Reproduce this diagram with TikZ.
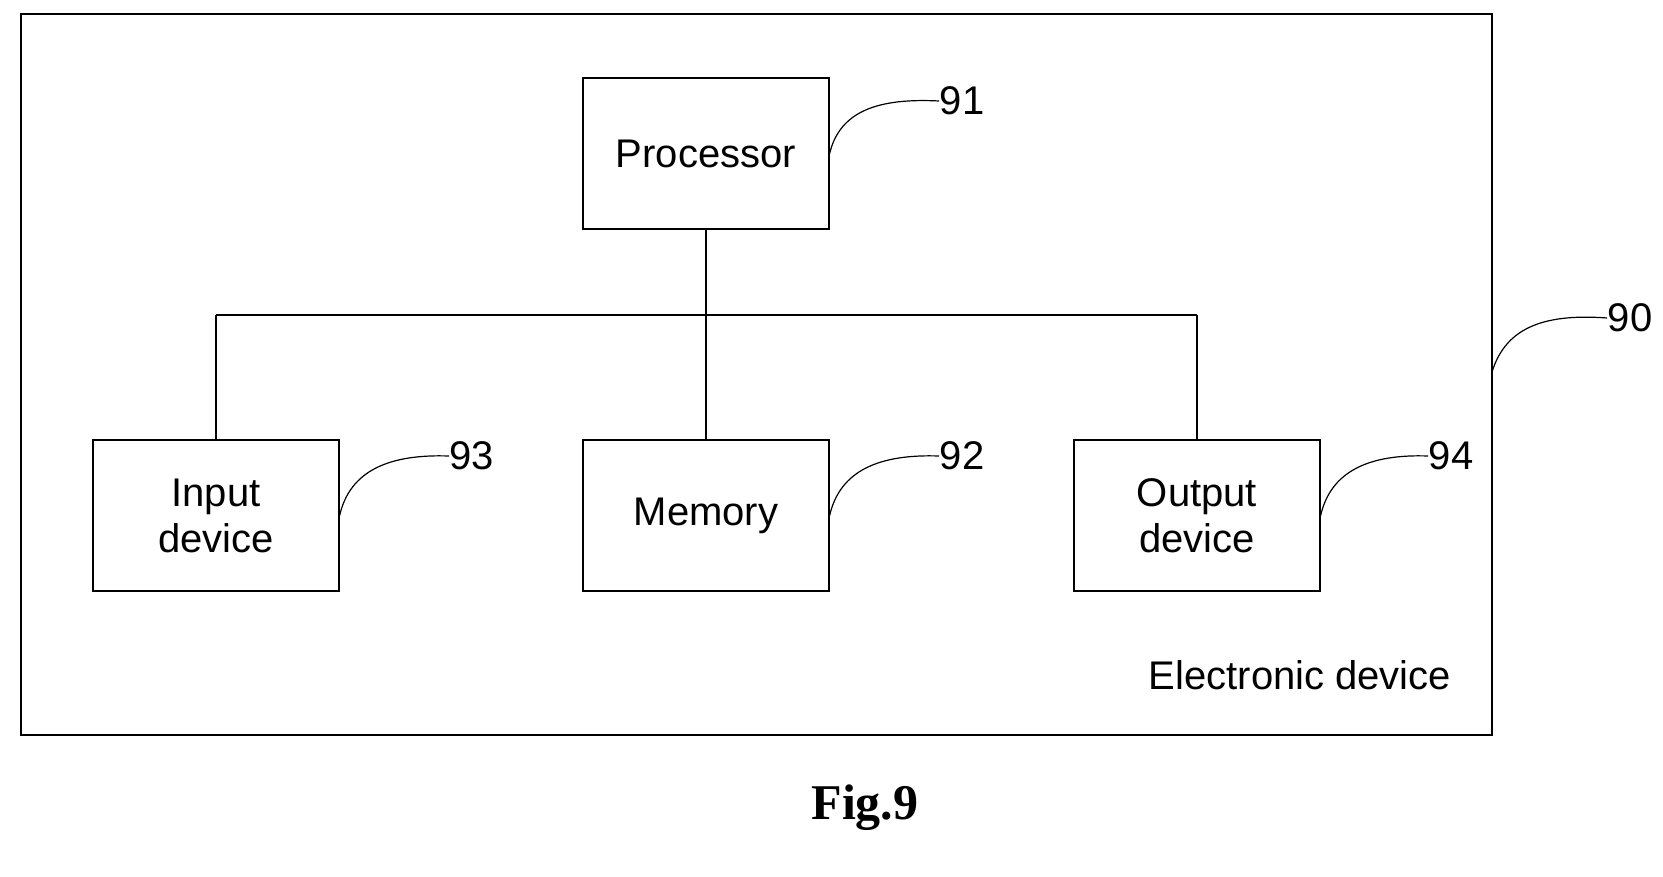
\documentclass[tikz,border=0pt]{standalone}
\usepackage{fontspec}
\setmainfont{Liberation Sans}
\newfontfamily\figfont{Liberation Serif}
\begin{document}
\begin{tikzpicture}[x=1pt,y=-1pt,line width=1.3pt,
  box/.style={draw,rectangle,minimum width=246pt,minimum height=151pt,align=center,font=\fontsize{40}{46}\selectfont,inner sep=0},
  num/.style={font=\fontsize{40}{46}\selectfont,inner sep=0},
  lead/.style={line width=1.2pt}]
\useasboundingbox (0,0) rectangle (1663,877);
\node[draw,rectangle,line width=1.5pt,minimum width=1471pt,minimum height=721pt,inner sep=0] (dev) at (756.5,374.5) {};
\node[box] (proc) at (706,153.5) {Processor};
\node[box] (inp) at (216,515.5) {Input\\device};
\node[box] (mem) at (706,515.5) {Memory};
\node[box] (out) at (1197,515.5) {Output\\device};
\coordinate (bus) at (706,315);
\coordinate (busL) at (216,315);
\coordinate (busR) at (1197,315);
\draw (proc.south) -- (mem.north);
\draw (busL) -- (busR);
\draw (busL) -- (inp.north);
\draw (busR) -- (out.north);
\node[num] (n91) at (962,101) {91};
\node[num] (n93) at (472,456) {93};
\node[num] (n92) at (962,456) {92};
\node[num] (n94) at (1451,456) {94};
\node[num] (n90) at (1630,318) {90};
\draw[lead] (proc.east) ++(0,0) .. controls (840,110) and (880,98) .. (n91.west);
\draw[lead] (inp.east) .. controls (350,470) and (390,454) .. (n93.west);
\draw[lead] (mem.east) .. controls (840,470) and (880,454) .. (n92.west);
\draw[lead] (out.east) .. controls (1331,470) and (1371,454) .. (n94.west);
\coordinate (d90) at (1492,372);
\draw[lead] (d90) .. controls (1505,330) and (1540,313) .. (n90.west);
\node[font=\fontsize{40}{46}\selectfont,inner sep=0] (lab) at (1300,675) {Electronic device};
\node[font=\fontsize{50}{56}\selectfont\figfont\bfseries,inner sep=0] (fig) at (865,808) {Fig.9};
\end{tikzpicture}
\end{document}
